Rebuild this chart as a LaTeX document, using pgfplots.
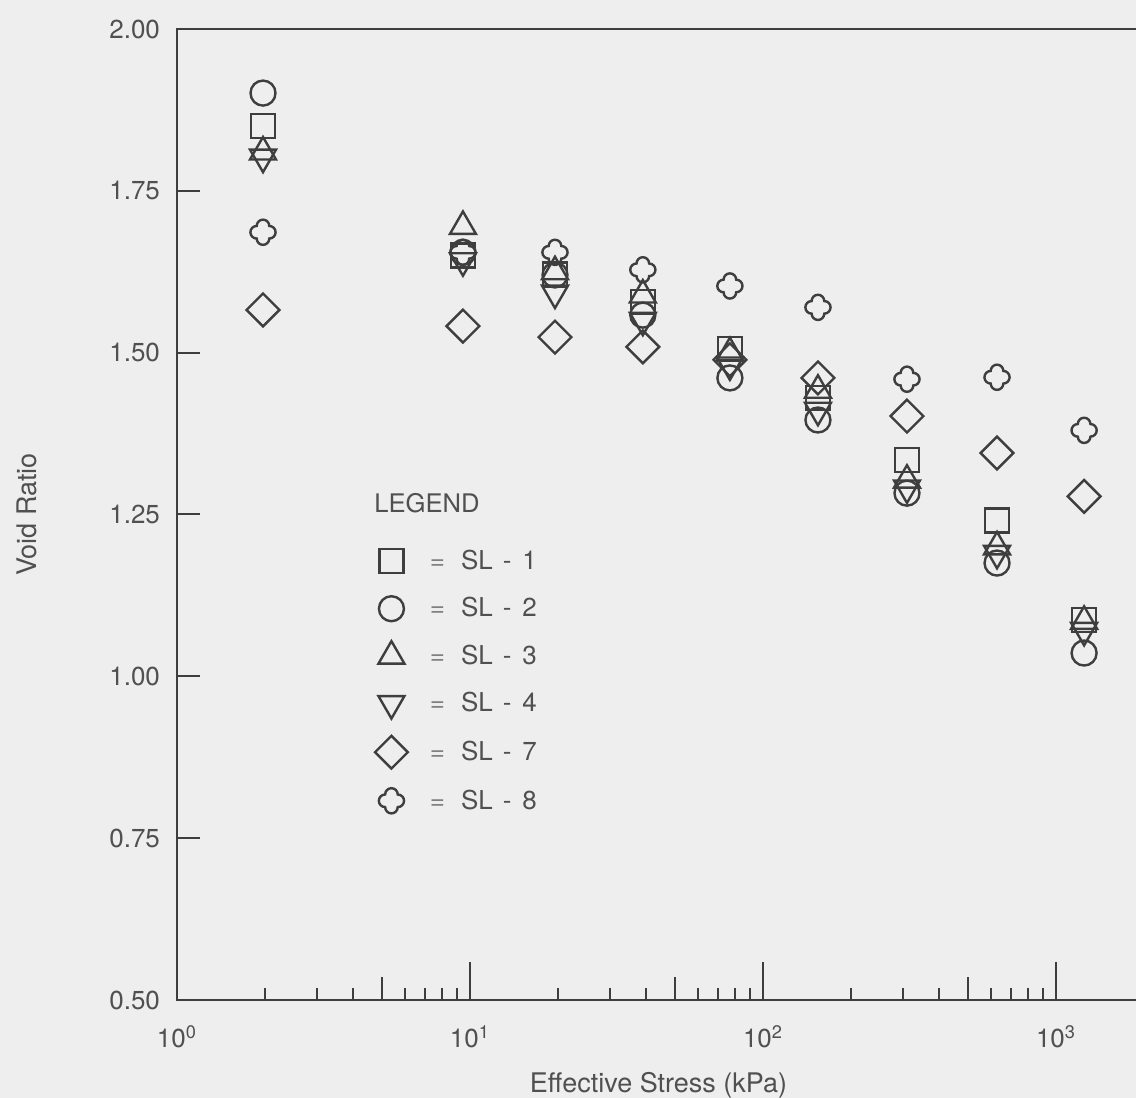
\documentclass[border=0pt]{standalone}
\usepackage{fontspec}
\setmainfont{TeX Gyre Heros}
\usepackage{pgfplots}
\usepackage{pgfplotstable}
\pgfplotsset{compat=1.18}
\definecolor{ink}{RGB}{62,62,62}
\definecolor{txt}{RGB}{80,80,80}
\definecolor{bg}{RGB}{238,238,238}

\pgfdeclareplotmark{qfoil}{%
  \pgfpathmoveto{\pgfqpoint{0.5\pgfplotmarksize}{0.5\pgfplotmarksize}}%
  \pgfpatharc{0}{180}{0.5\pgfplotmarksize}%
  \pgfpatharc{90}{270}{0.5\pgfplotmarksize}%
  \pgfpatharc{180}{360}{0.5\pgfplotmarksize}%
  \pgfpatharc{-90}{90}{0.5\pgfplotmarksize}%
  \pgfpathclose
  \pgfusepathqstroke
}

\pgfplotstableread{
x      s1     s2     s3     s4     s7     s8
1.966  1.850  1.901  1.810  1.802  1.566  1.686
9.46   1.650  1.655  1.695  1.642  1.541  1.655
19.5   1.621  1.620  1.625  1.592  1.524  1.655
38.9   1.578  1.558  1.589  1.550  1.509  1.628
77.1   1.506  1.461  1.500  1.481  1.489  1.603
154    1.430  1.396  1.442  1.411  1.461  1.570
310    1.334  1.283  1.303  1.291  1.402  1.459
629    1.241  1.175  1.200  1.190  1.345  1.462
1247   1.087  1.036  1.085  1.071  1.278  1.380
}\datatable

\newcommand{\entry}[1]{{\color{gray}=}\hspace{8pt}SL\hspace{5pt}-\hspace{5.5pt}#1}

\begin{document}
\begin{tikzpicture}
\fill[bg] (-88.5pt,-49pt) rectangle (479.5pt,500pt);
\begin{axis}[
  at={(0pt,0pt)}, anchor=south west,
  scale only axis, width=481.5pt, height=485.5pt,
  xmode=log, log basis x=10,
  xmin=1, xmax=1935, ymin=0.5, ymax=2.0,
  axis line style={ink, line width=1.2pt},
  every tick/.style={ink, line width=1pt},
  tick align=inside,
  xtick pos=bottom, ytick pos=left,
  xtick={5,50,500}, xticklabels={},
  minor xtick={2,3,4,6,7,8,9,20,30,40,60,70,80,90,200,300,400,600,700,800,900},
  major tick length=11.5pt, minor tick length=6pt,
  extra x ticks={1,10,100,1000},
  extra x tick labels={10\textsuperscript{0},10\textsuperscript{1},10\textsuperscript{2},10\textsuperscript{3}},
  extra x tick style={major tick length=19pt},
  ytick={0.5,0.75,1.0,1.25,1.5,1.75,2.0},
  /pgf/number format/assume math mode=true,
  y tick label style={/pgf/number format/fixed, /pgf/number format/fixed zerofill, /pgf/number format/precision=2},
  ticklabel style={font=\fontsize{13}{15}\selectfont, text=txt},
  y tick label style={xshift=-5pt},
  x tick label style={yshift=-9.5pt},
  every axis x label/.style={at={(axis description cs:0.5,-0.0875)}, anchor=center},
  every axis y label/.style={at={(axis description cs:-0.1564,0.5)}, anchor=center, rotate=90},
  xlabel={Effective Stress (kPa)},
  ylabel={Void Ratio},
  label style={font=\fontsize{13.5}{16}\selectfont, text=txt},
  legend style={at={(rel axis cs:0.199,0.472)}, anchor=north west, draw=none, fill=none,
    font=\fontsize{13}{15}\selectfont, text=txt, row sep=8.5pt,
    /tikz/every odd column/.append style={column sep=9pt}},
  legend cell align=left,
]
\addplot[only marks, mark=square, mark size=6pt, draw=ink, mark options={solid, line width=1.2pt}] table[x=x, y=s1] {\datatable};
\addlegendentry{\entry{1}}
\addplot[only marks, mark=o, mark size=6.25pt, draw=ink, mark options={solid, line width=1.2pt}] table[x=x, y=s2] {\datatable};
\addlegendentry{\entry{2}}
\addplot[only marks, mark=triangle, mark size=7.5pt, draw=ink, mark options={solid, line width=1.2pt}] table[x=x, y=s3] {\datatable};
\addlegendentry{\entry{3}}
\addplot[only marks, mark=triangle, mark size=7.5pt, draw=ink, mark options={solid, line width=1.2pt, rotate=180}] table[x=x, y=s4] {\datatable};
\addlegendentry{\entry{4}}
\addplot[only marks, mark=square, mark size=5.8pt, draw=ink, mark options={solid, line width=1.2pt, rotate=45}] table[x=x, y=s7] {\datatable};
\addlegendentry{\entry{7}}
\addplot[only marks, mark=qfoil, mark size=6.3pt, draw=ink, mark options={solid, line width=1.2pt}] table[x=x, y=s8] {\datatable};
\addlegendentry{\entry{8}}
\node[anchor=west, font=\fontsize{12.8}{15}\selectfont, text=txt, inner sep=0pt] at (rel axis cs:0.2046,0.5118) {LEGEND};
\end{axis}
\pgfresetboundingbox
\useasboundingbox (-88.5pt,-49pt) rectangle (479.5pt,500pt);
\end{tikzpicture}
\end{document}
